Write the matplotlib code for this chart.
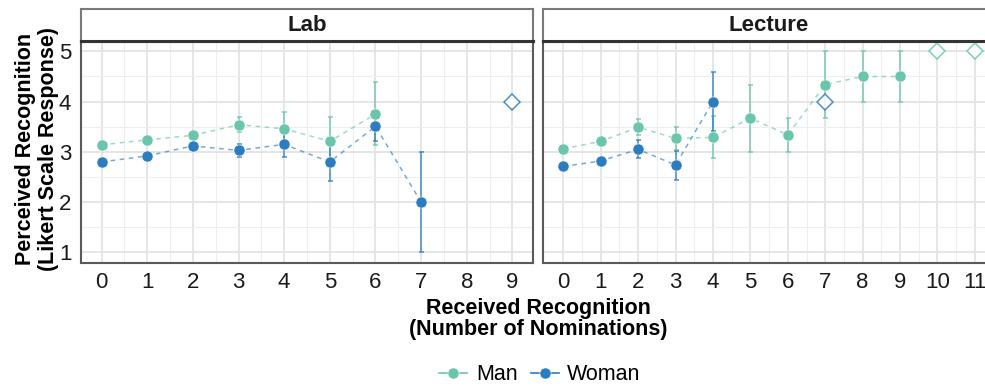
import numpy as np
import matplotlib.pyplot as plt
from matplotlib.lines import Line2D

plt.rcParams['font.family'] = ['Liberation Sans', 'DejaVu Sans']

# ---- data ----
lab_man_x = [0, 1, 2, 3, 4, 5, 6]
lab_man_y = [3.14, 3.24, 3.33, 3.54, 3.46, 3.21, 3.75]
lab_man_lo = [3.09, 3.19, 3.26, 3.39, 3.13, 2.72, 3.13]
lab_man_hi = [3.19, 3.29, 3.40, 3.70, 3.79, 3.70, 4.39]

lab_woman_x = [0, 1, 2, 3, 4, 5, 6, 7]
lab_woman_y = [2.80, 2.92, 3.12, 3.03, 3.15, 2.80, 3.51, 2.00]
lab_woman_lo = [2.75, 2.87, 3.06, 2.90, 2.90, 2.42, 3.22, 1.00]
lab_woman_hi = [2.85, 2.97, 3.18, 3.16, 3.38, 3.18, 3.78, 3.00]

# single responses (no error bar), drawn as open diamonds
lab_single_x = {'Woman': [9], 'Man': []}
lab_single_y = {'Woman': [4.0], 'Man': []}

lec_man_x = [0, 1, 2, 3, 4, 5, 6, 7, 8, 9]
lec_man_y = [3.06, 3.21, 3.49, 3.27, 3.29, 3.67, 3.34, 4.34, 4.50, 4.50]
lec_man_lo = [3.01, 3.15, 3.33, 3.04, 2.87, 3.00, 3.00, 3.67, 4.00, 4.00]
lec_man_hi = [3.11, 3.27, 3.66, 3.50, 3.71, 4.34, 3.67, 5.00, 5.00, 5.00]

lec_woman_x = [0, 1, 2, 3, 4]
lec_woman_y = [2.71, 2.82, 3.05, 2.74, 4.00]
lec_woman_lo = [2.66, 2.77, 2.88, 2.45, 3.41]
lec_woman_hi = [2.76, 2.87, 3.23, 3.02, 4.58]

lec_single_x = {'Woman': [7], 'Man': [10, 11]}
lec_single_y = {'Woman': [4.0], 'Man': [5.0, 5.0]}

colors = {'Man': '#69C5AC', 'Woman': '#2B7DBF'}
panels = ['Lab', 'Lecture']

W, H = 985, 387
fig = plt.figure(figsize=(W / 100, H / 100), dpi=100)


def px(x0, y0, x1, y1):
    # pixel box -> figure fraction rect
    return [x0 / W, 1 - y1 / H, (x1 - x0) / W, (y1 - y0) / H]


ax_lab = fig.add_axes(px(81, 41.3, 533, 262.5))
ax_lec = fig.add_axes(px(542.7, 41.3, 995.5, 262.5))
st_lab = fig.add_axes(px(81, 9, 533, 41.3))
st_lec = fig.add_axes(px(542.7, 9, 995.5, 41.3))


def draw_series(ax, xs, ys, lo, hi, col):
    ys = np.array(ys)
    yerr = [ys - np.array(lo), np.array(hi) - ys]
    ax.plot(xs, ys, ls=(0, (3, 3)), lw=1.1, color=col, alpha=0.65, zorder=3)
    ax.errorbar(xs, ys, yerr=yerr, fmt='none', ecolor=col, elinewidth=1.1,
                capsize=1.8, capthick=1.1, alpha=0.85, zorder=4)
    ax.plot(xs, ys, 'o', ms=8, color=col, mec='white', mew=0.4, zorder=5)


draw_series(ax_lab, lab_man_x, lab_man_y, lab_man_lo, lab_man_hi, colors['Man'])
draw_series(ax_lab, lab_woman_x, lab_woman_y, lab_woman_lo, lab_woman_hi, colors['Woman'])
draw_series(ax_lec, lec_man_x, lec_man_y, lec_man_lo, lec_man_hi, colors['Man'])
draw_series(ax_lec, lec_woman_x, lec_woman_y, lec_woman_lo, lec_woman_hi, colors['Woman'])

for ax, sx, sy in [(ax_lab, lab_single_x, lab_single_y), (ax_lec, lec_single_x, lec_single_y)]:
    for g in ['Man', 'Woman']:
        if sx[g]:
            ax.plot(sx[g], sy[g], 'D', ms=8, mfc='white', mec=colors[g],
                    mew=1.1, alpha=0.85, zorder=6)

ax_lab.set_xlim(-0.45, 9.45)
ax_lec.set_xlim(-0.55, 11.55)
for ax in [ax_lab, ax_lec]:
    ax.set_ylim(0.8, 5.2)
    ax.set_xticks(np.arange(0, ax.get_xlim()[1], 1))
    ax.set_xticks(np.arange(0.5, ax.get_xlim()[1], 1), minor=True)
    ax.set_yticks([1, 2, 3, 4, 5])
    ax.set_yticks([1.5, 2.5, 3.5, 4.5], minor=True)
    ax.grid(which='major', color='#E3E3E3', lw=1.3, zorder=0)
    ax.grid(which='minor', color='#EEEEEE', lw=0.8, zorder=0)
    ax.set_axisbelow(True)
    ax.tick_params(which='both', length=0, labelsize=16, colors='#1a1a1a')
    ax.tick_params(axis='x', pad=7)
    ax.tick_params(axis='y', pad=7)
    for s in ax.spines.values():
        s.set_color('#5A5A5A')
        s.set_linewidth(1.5)
    ax.spines['top'].set_color('#333333')
    ax.spines['top'].set_linewidth(2.2)
ax_lec.tick_params(axis='y', labelleft=False)

for st, name in [(st_lab, panels[0]), (st_lec, panels[1])]:
    st.set_xticks([])
    st.set_yticks([])
    for s in st.spines.values():
        s.set_color('#7A7A7A')
        s.set_linewidth(1.5)
    st.spines['bottom'].set_color('#333333')
    st.spines['bottom'].set_linewidth(2.2)
    st.text(0.5, 0.5, name, transform=st.transAxes, ha='center', va='center',
            fontsize=16, fontweight='bold', color='#1a1a1a')

fig.text(538 / W, 1 - 319 / H, 'Received Recognition\n(Number of Nominations)',
         ha='center', va='center', fontsize=15.5, fontweight='bold',
         linespacing=1.0)
fig.text(37 / W, 1 - 149 / H, 'Perceived Recognition\n(Likert Scale Response)',
         ha='center', va='center', rotation=90, fontsize=15.5,
         fontweight='bold', linespacing=1.12)

handles = [Line2D([], [], color=colors[g], marker='o', ms=8, lw=1.2,
                  mec='white', mew=0.4) for g in ['Man', 'Woman']]
fig.legend(handles, ['Man', 'Woman'], loc='center', ncol=2,
           bbox_to_anchor=(540 / W, 1 - 375 / H), frameon=False,
           fontsize=15.5, handlelength=1.3, handletextpad=0.4,
           columnspacing=0.6)

fig.savefig('out.png', dpi=100)
